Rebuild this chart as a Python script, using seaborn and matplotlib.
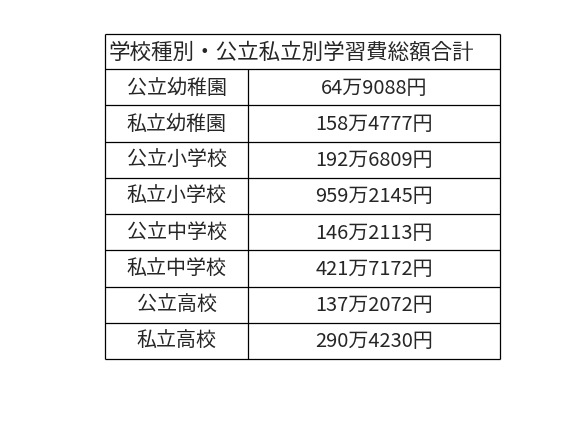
import matplotlib
matplotlib.use("Agg")
import matplotlib.pyplot as plt
import seaborn as sns

sns.set_style("white")
plt.rcParams['font.family'] = ['Noto Sans CJK JP', 'DejaVu Sans']

title = "学校種別・公立私立別学習費総額合計"
categories = ["公立幼稚園", "私立幼稚園", "公立小学校", "私立小学校",
              "公立中学校", "私立中学校", "公立高校", "私立高校"]
values = ["64万9088円", "158万4777円", "192万6809円", "959万2145円",
          "146万2113円", "421万7172円", "137万2072円", "290万4230円"]

fig = plt.figure(figsize=(5.8, 4.27), dpi=100)
ax = fig.add_axes([0, 0, 1, 1])
ax.set_xlim(0, 580)
ax.set_ylim(427, 0)
ax.axis("off")

left, mid, right = 105, 248, 500
top, head_h, row_h = 35, 35, 36.25
n = len(categories)
bottom = top + head_h + n * row_h
lw = 0.9
ax.hlines([top, top + head_h] + [top + head_h + (i + 1) * row_h for i in range(n)],
          left, right, color="black", lw=lw)
ax.vlines([left, right], top, bottom, color="black", lw=lw)
ax.vlines(mid, top + head_h, bottom, color="black", lw=lw)

ax.text(left + 4, top + head_h / 2, title, fontsize=15.5, va="center", ha="left")
for i, (c, v) in enumerate(zip(categories, values)):
    y = top + head_h + (i + 0.5) * row_h
    ax.text((left + mid) / 2, y, c, fontsize=14.4, va="center", ha="center")
    ax.text((mid + right) / 2, y, v, fontsize=14.4, va="center", ha="center")

fig.savefig("out.png", dpi=100)
